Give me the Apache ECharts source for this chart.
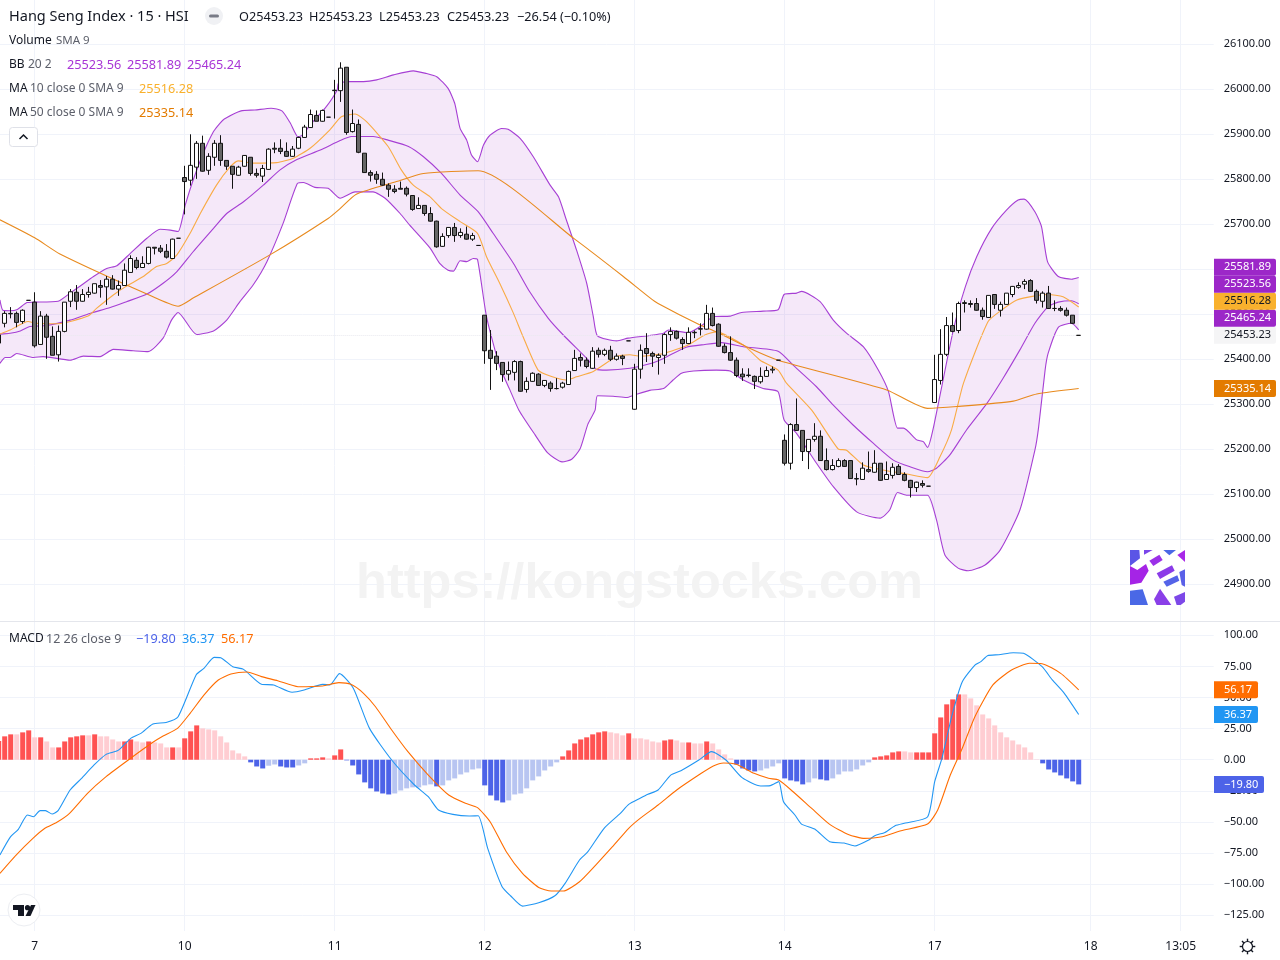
<!DOCTYPE html>
<html><head><meta charset="utf-8">
<style>html,body{margin:0;padding:0;background:#fff}#c{width:1280px;height:960px}</style>
<script src="https://cdn.jsdelivr.net/npm/echarts@6/dist/echarts.min.js"></script>
</head><body><div id="c"></div>
<script>
const firstBar=-6, barCount=203;
const timeTicks={0:'7',25:'10',50:'11',75:'12',100:'13',125:'14',150:'17',176:'18',191:'13:05'};
const priceTicksMin=24900, priceTicksMax=26100, macdMin=-125, macdMax=100;

const opens=[25454,25480,25501,25502,25484,25531,
25527,25433,25496,25451,25410,25462,25529,25549,25529,25544,
25547,25564,25561,25578,25556,25564,25593,25620,25604,25613,
25649,25647,25640,25624,25669,25804,25798,25827,25880,25820,
25849,25880,25842,25829,25809,25829,25849,25813,25807,25822,
25869,25869,25862,25851,25869,25893,25915,25942,25929,25938,
25997,25997,26049,25906,25922,25858,25815,25811,25800,25787,
25778,25780,25780,25764,25735,25742,25724,25707,25651,25675,
25693,25675,25678,25667,25653,25498,25420,25407,25393,25367,
25371,25395,25333,25351,25367,25342,25347,25335,25338,25344,
25375,25404,25398,25380,25420,25411,25420,25400,25407,25441,
25289,25378,25424,25413,25404,25409,25455,25462,25444,25435,
25459,25467,25467,25502,25478,25429,25415,25398,25367,25365,
25362,25350,25362,25376,25398,25220,25169,25255,25242,25195,
25222,25229,25175,25155,25162,25175,25175,25135,25133,25155,
25149,25169,25133,25142,25162,25144,25131,25115,25124,25118,
25304,25353,25411,25475,25464,25524,25524,25524,25509,25493,
25544,25509,25522,25544,25560,25567,25575,25551,25529,25547,
25513,25513,25509,25498,25453.23];
const closes=[25436,25502,25502,25482,25509,25531,
25430,25496,25449,25409,25462,25527,25550,25529,25544,25549,
25568,25560,25578,25556,25564,25598,25624,25604,25613,25649,
25647,25640,25627,25667,25669,25795,25831,25880,25818,25851,
25880,25842,25829,25811,25827,25853,25813,25809,25824,25867,
25867,25862,25851,25867,25893,25916,25944,25929,25953,25938,
25998,26047,25904,25924,25860,25815,25809,25800,25787,25778,
25773,25778,25767,25733,25742,25724,25707,25650,25673,25693,
25675,25682,25667,25675,25653,25419,25402,25391,25366,25375,
25395,25329,25351,25369,25342,25353,25335,25335,25347,25373,
25402,25398,25384,25418,25411,25420,25400,25407,25402,25441,
25378,25420,25413,25407,25409,25455,25462,25447,25435,25460,
25460,25468,25502,25475,25429,25415,25398,25364,25361,25364,
25351,25362,25375,25378,25398,25169,25255,25242,25195,25222,
25229,25175,25155,25164,25175,25162,25135,25134,25158,25151,
25169,25131,25144,25160,25144,25131,25115,25127,25120,25118,
25355,25411,25475,25462,25524,25526,25522,25509,25495,25542,
25522,25522,25547,25562,25564,25573,25551,25531,25547,25513,
25513,25509,25498,25480,25453.23];
const lows=[25436,25471,25491,25471,25479,25531,
25426,25433,25401,25409,25395,25460,25516,25510,25528,25537,
25546,25537,25521,25555,25541,25564,25593,25600,25604,25611,
25633,25636,25624,25624,25669,25722,25786,25801,25817,25810,
25830,25830,25821,25779,25808,25828,25808,25804,25794,25821,
25858,25856,25850,25850,25867,25892,25914,25929,25928,25938,
25935,25972,25899,25904,25858,25815,25795,25790,25786,25761,
25769,25778,25762,25730,25735,25719,25706,25648,25650,25670,
25661,25670,25666,25663,25653,25390,25332,25376,25350,25353,
25353,25328,25326,25350,25341,25338,25328,25333,25335,25344,
25375,25384,25380,25379,25404,25407,25396,25397,25387,25441,
25288,25357,25394,25383,25366,25390,25441,25444,25421,25434,
25447,25453,25466,25473,25428,25413,25397,25360,25352,25360,
25334,25346,25361,25369,25398,25164,25155,25241,25174,25156,
25217,25175,25153,25153,25160,25161,25135,25120,25133,25148,
25148,25130,25133,25135,25144,25129,25093,25105,25115,25118,
25304,25344,25407,25460,25458,25504,25515,25508,25488,25492,
25512,25495,25521,25538,25557,25556,25550,25524,25515,25512,
25507,25506,25495,25479,25453.23];
const highs=[25476,25507,25516,25506,25511,25531,
25549,25507,25501,25473,25475,25527,25556,25565,25556,25561,
25568,25576,25585,25587,25575,25613,25631,25627,25629,25650,
25649,25654,25656,25668,25669,25830,25900,25885,25897,25858,
25887,25898,25842,25829,25830,25854,25849,25824,25832,25869,
25882,25889,25882,25874,25895,25921,25955,25953,25955,25938,
26021,26060,26049,25955,25933,25858,25820,25818,25815,25791,
25787,25795,25784,25764,25760,25742,25738,25708,25680,25693,
25703,25691,25695,25681,25653,25498,25465,25418,25393,25395,
25398,25397,25360,25371,25369,25354,25351,25358,25350,25375,
25421,25413,25404,25427,25426,25424,25430,25413,25410,25441,
25390,25433,25458,25417,25413,25458,25471,25464,25449,25471,
25464,25480,25521,25515,25480,25435,25451,25404,25380,25380,
25364,25382,25384,25384,25398,25233,25258,25313,25242,25222,
25258,25242,25202,25178,25180,25178,25176,25147,25171,25195,
25198,25169,25173,25169,25167,25149,25132,25128,25131,25118,
25410,25467,25494,25504,25528,25531,25531,25536,25515,25542,
25544,25528,25547,25563,25571,25578,25578,25555,25551,25563,
25531,25518,25515,25498,25453.23];

const bbUpper=[[-5.8,25532],[-5.3,25509],[-4.1,25508],[-3,25510],[-1.3,25526],[-.2,25527],[3.9,25529],[5.9,25547],[7.6,25563],[9.8,25584],[12,25602],[13.7,25608],[15.9,25635],[18.7,25669],[20.9,25689],[22.6,25687],[23.9,25684],[25.1,25743],[26.4,25798],[28.1,25858],[29.8,25906],[30.9,25925],[31.6,25934],[34.4,25952],[36.7,25954],[39.4,25958],[41.2,25952],[42.6,25925],[43.9,25894],[44.6,25898],[45.9,25921],[48.4,25958],[50.4,25998],[50.6,26013],[52,26017],[54.8,26017],[57,26021],[59.8,26032],[63.1,26041],[65.3,26035],[67,26028],[68.9,26002],[70,25969],[70.9,25913],[72,25887],[72.8,25854],[73.8,25839],[74.8,25876],[75.9,25898],[77.8,25913],[78.9,25911],[80.9,25891],[83.1,25850],[85.9,25787],[87.3,25761],[88.6,25710],[90.3,25643],[92,25569],[93.1,25495],[93.8,25452],[97,25441],[98.9,25447],[102.5,25453],[104.8,25458],[105.6,25465],[108.9,25459],[111.7,25480],[113.1,25495],[115.9,25496],[117.8,25504],[121.4,25507],[123.9,25510],[124.9,25544],[127,25547],[127.8,25551],[130.9,25528],[133.1,25487],[135.3,25458],[138.1,25428],[140.6,25376],[142.3,25328],[143.8,25247],[144.8,25247],[147,25221],[148.1,25217],[148.8,25204],[149.7,25243],[153.1,25465],[155.1,25561],[157,25628],[159.5,25691],[162,25732],[163.9,25754],[164.9,25756],[166.7,25728],[167.8,25695],[168.8,25617],[170.6,25584],[172.8,25578],[174,25581.89]];
const bbMiddle=[[-5.8,25456],[-4.1,25458],[-2.4,25463],[-.8,25473],[2,25475],[5.9,25487],[9.2,25502],[12.6,25515],[15.3,25528],[18.7,25545],[21.4,25569],[23.7,25595],[26.4,25639],[29.8,25691],[32,25724],[34.8,25750],[38.1,25787],[40.9,25821],[43.7,25844],[47.6,25865],[50.9,25886],[52.8,25895],[56.4,25895],[58.9,25887],[62.3,25873],[64.8,25850],[67.8,25813],[70.9,25765],[73.9,25728],[76.4,25680],[79.8,25613],[82.5,25550],[85.6,25491],[88.1,25454],[92,25402],[93.6,25378],[95.3,25376],[99.2,25380],[102.5,25390],[104.8,25402],[108.6,25427],[111.7,25433],[114.5,25437],[118.1,25428],[123.9,25418],[126.4,25387],[130.3,25339],[133.1,25298],[136.4,25254],[139.8,25213],[143.1,25176],[145.9,25161],[148.8,25150],[150.3,25158],[152.5,25187],[155.3,25243],[158.7,25302],[161.4,25358],[164.2,25421],[166.7,25480],[168.9,25517],[170.6,25527],[172.8,25530],[174,25523.56]];
const bbLower=[[-5.8,25391],[-4.9,25404],[-4.1,25404],[-3,25413],[-.2,25404],[1.4,25406],[5.9,25398],[8.1,25407],[10.9,25406],[13.1,25422],[16.4,25419],[18.9,25417],[21.4,25447],[22.8,25487],[23.9,25504],[27,25455],[29.8,25463],[32,25487],[34.2,25528],[36.4,25565],[38.7,25617],[41.4,25702],[43.8,25791],[44.8,25793],[46.7,25782],[48.9,25780],[50.9,25758],[53.4,25772],[56.4,25772],[58.4,25758],[60.9,25724],[62.5,25698],[65.9,25647],[67.5,25613],[68.9,25598],[69.8,25596],[70.9,25619],[72,25617],[73.1,25624],[73.8,25622],[75.3,25495],[77.5,25384],[79.2,25332],[80.7,25287],[83.4,25232],[85.5,25192],[87.9,25172],[89.5,25178],[90.9,25201],[92.2,25256],[93.4,25287],[93.8,25319],[96.4,25318],[98.6,25315],[100,25321],[102.5,25331],[104.8,25335],[106.4,25354],[107.8,25369],[109.8,25374],[113.6,25376],[115.9,25374],[118.1,25354],[121.4,25335],[123.9,25328],[124.9,25265],[127,25235],[130.3,25169],[133.1,25117],[137,25061],[140.9,25047],[142.5,25065],[143.8,25104],[145.3,25098],[148.8,25098],[150.3,25043],[151.7,24965],[153.9,24936],[155.6,24930],[158.4,24943],[160.9,24976],[164.2,25065],[166.7,25198],[167.3,25247],[168.4,25376],[168.9,25413],[170.6,25471],[172.8,25480],[174,25465.24]];
const ma10=[[-5.8,25456],[-4.1,25465],[-1.1,25484],[.3,25480],[3.9,25479],[8.9,25496],[10.3,25513],[13.1,25543],[15.1,25561],[18.1,25584],[20.3,25606],[22,25613],[23.7,25632],[25.9,25680],[27.6,25724],[30.3,25787],[32.6,25828],[33.9,25841],[36.4,25836],[40.3,25837],[43.1,25847],[45.9,25869],[49.2,25910],[51.1,25939],[53.4,25945],[55.3,25928],[58.9,25873],[61.1,25821],[63.1,25787],[65.9,25761],[67.8,25735],[70.9,25706],[73.8,25680],[75.3,25628],[77.5,25569],[79.8,25502],[81.4,25450],[83.9,25376],[85.9,25363],[88.6,25354],[90.3,25361],[93.1,25373],[97,25406],[99.2,25410],[100.9,25407],[104.8,25413],[108.9,25432],[111.7,25454],[113.6,25461],[118.1,25432],[120.9,25398],[123.9,25376],[125.3,25347],[129.5,25287],[133.9,25201],[135.3,25198],[138.1,25165],[141.4,25154],[145.3,25145],[148.8,25137],[150.9,25184],[152.8,25243],[154.8,25347],[158.9,25484],[161.2,25510],[163.7,25532],[166.7,25541],[168.9,25544],[171.4,25539],[174,25516.28]];
const ma50=[[-5.8,25710],[0,25670],[4.2,25634],[18.7,25545],[23.9,25518],[26.4,25536],[39.2,25632],[48.9,25713],[50.9,25735],[53.6,25767],[60.3,25795],[64.8,25813],[73.9,25819],[90,25667],[98.1,25584],[102.5,25537],[103.9,25524],[110.9,25476],[113.6,25461],[118.6,25428],[123.9,25398],[142,25332],[148.8,25291],[153.7,25295],[163.1,25307],[167,25323],[174,25335.14]];

const macdHist=[15,18.8,20.4,20.4,22,23.6,
18,18,14.7,9.9,9.9,14.7,18,18.8,19.6,19.6,
20.4,18.8,18.8,16.3,14.7,14.7,16.3,14.7,13.9,14.7,
13.9,13.1,9.9,9.9,9.9,17.2,22.8,27.6,25.2,24.4,
23.6,18.8,13.9,7.5,5.1,2.7,-2.1,-5.4,-7,-4.8,
-3.8,-5.4,-6.2,-6.2,-4.6,-2.9,1.1,1.1,1.9,1.1,
3.5,8.3,-.5,-4.6,-11.8,-18.2,-23,-25.5,-27.1,-27.9,
-27.1,-24.7,-23,-22.2,-22.2,-20.6,-19.8,-21.4,-20.6,-16.6,
-15,-11.8,-10.2,-7.8,-7,-20.6,-28.7,-32.7,-34.3,-32.7,
-27.9,-27.1,-23,-16.6,-13.4,-8.6,-5.4,-2.1,2.7,7.5,
13.1,16.3,18,20.4,22,22.8,22,21.2,19.6,21.2,
17.2,17.2,16.3,14.7,13.9,15.5,16.3,15.5,13.9,13.9,
13.1,13.1,14.7,13.1,8.3,4.3,1.1,-3.8,-7,-8.6,
-9.4,-8.6,-7,-5.4,-2.9,-15,-16.6,-17.4,-19.8,-18.2,
-15,-15.8,-16.6,-15,-11.8,-9.4,-9.4,-7.8,-4.6,-2.1,
1.9,2.7,3.5,5.9,6.7,6.7,5.9,5.9,5.9,5.9,
21.2,34,44.5,48.5,52.5,52.5,49.3,43.7,36.4,33.2,
27.6,22,18,15.5,12.3,9.9,5.9,.3,-2.9,-7.8,
-10.2,-12.6,-15,-17.4,-19.8];
const histShade=('DDDLDD'+'LDLLDDDDDLDLLLLDDLLDLLLDL'+'DDD'+'LLLLLLLL'+'DDDLLDDDLL'+'DDDLDD'+'DDDDDDDD'+'LLLLLLL'+'D'+'LLLLLLL'+'DDDD'+'LLLLLLLLL'+'DDDDDDDD'+'LLL'+'D'+'LLLLL'+'DD'+'LL'+'D'+'LL'+'D'+'LLLL'+'DDDD'+'LLLL'+'DDDD'+'LL'+'DD'+'LLLLLLL'+'DDDDD'+'LL'+'DDD'+'DDDDD'+'LLLLLLLLLLLLL'+'DDDDDDD').split('');
const macdLine=[[-5.8,-76.6],[-4.1,-62.4],[-2.7,-55.7],[-1.2,-44.4],[-.2,-45.8],[.9,-40.9],[1.8,-40.9],[2.9,-43.6],[3.9,-40.9],[5.9,-24.3],[7.8,-15],[9.9,-4.2],[11.9,4.3],[13.9,7.5],[16,17.2],[17.7,21.2],[19.7,28.7],[21.9,30],[23.9,34.6],[26.9,68.1],[28.2,73.4],[29.9,82.3],[31,82],[33,74.8],[34.8,72.6],[37.8,60.6],[39.8,60.1],[42.9,54.2],[44.9,56],[48,60.6],[49.2,60.1],[50.8,69.2],[53.1,57.4],[55.8,25.2],[59.5,-.2],[63.3,-20.3],[65.6,-29.7],[67.3,-40.4],[69.7,-43.9],[72.4,-45.2],[73.9,-45],[75.5,-71.2],[77.9,-102],[79.3,-109.3],[81.3,-117.6],[84,-114.9],[86.7,-109.3],[88.4,-99.3],[90.8,-80.6],[92.2,-73.9],[94.9,-55.1],[97.6,-43.1],[99,-35.9],[100.9,-31],[102.2,-27.8],[103.9,-24.3],[106,-12.3],[107.7,-8.8],[110.7,-.2],[112.8,6.5],[115.2,-.2],[117.9,-14.4],[121,-21.1],[122.6,-20.8],[124,-17.6],[124.8,-33.7],[126.7,-44.4],[127.8,-51.7],[130,-55.7],[132.5,-65.9],[134.9,-66.9],[136.7,-69.3],[139,-64.5],[140,-61],[141.7,-58.4],[143.4,-53],[145.1,-50.9],[148.8,-46],[150,-17.6],[151.2,1.1],[152.9,36],[154.6,62.7],[156.7,76.1],[157.7,78.8],[158.8,83.6],[160.7,84.4],[163.1,86],[164.8,85.5],[167.9,74.8],[169.6,64.1],[171.6,53.4],[174,36.37]];
const signalLine=[[-5.8,-91.3],[-3.1,-76.6],[-.3,-63.2],[1.7,-55.1],[3.7,-50.3],[5.8,-43.1],[8.8,-27],[11.9,-13.6],[15.6,-.2],[19.7,14],[21.4,19.1],[23.8,25.2],[25.9,37.3],[28.2,52],[30.6,64.1],[32.7,68.9],[35.4,70.5],[37.8,66.8],[40.5,63.5],[43.9,58.7],[48,59.3],[50.7,62],[52.7,60.6],[54.8,53.4],[56.8,42.6],[59.5,23.9],[62.2,6.5],[65.6,-12.3],[69,-28.3],[71.8,-35],[73.8,-38.5],[75.9,-49.8],[78.6,-73.9],[81.3,-91.3],[84,-102.6],[86.1,-105.5],[88.1,-105.5],[90.8,-98],[93.5,-84.6],[96.3,-69.9],[99,-55.1],[100.9,-47.1],[103.9,-36.4],[107,-24.3],[111.1,-10.9],[113.1,-5],[114.8,-2.6],[116.9,-3.7],[119.9,-10.9],[122.3,-14.9],[124,-16.3],[126.4,-25.7],[129.5,-39.1],[132.5,-51.9],[135.6,-60],[138.3,-63.2],[141,-62.1],[144.4,-57],[148.8,-51.7],[150.5,-40.4],[152.6,-12.3],[154.6,9.2],[156.7,34.6],[159.7,60.1],[162.8,72.1],[165.8,77.5],[167.9,77.2],[171,69.4],[174,56.17]];

const priceTags=[[25581.89,'#9c27c8','#fff'],[25523.56,'#9c27c8','#fff'],[25516.28,'#f9b12d','#131722'],[25465.24,'#9c27c8','#fff'],[25453.23,'#f5f5f6','#131722'],[25335.14,'#e37b00','#fff']];
const macdTags=[[56.17,'#ff6d00','#fff'],[36.37,'#2196f3','#fff'],[-19.80,'#4d63e8','#fff']];

const UI='"Noto Sans",sans-serif';
const GRID='#f0f3fa', TXT='#131722', MUTED='#5d606b';
const LEFT=-4.3, WIDTH=1218;
const cats=Array.from({length:barCount},(_,i)=>timeTicks[i+firstBar]||'');
const hasTick=(i)=>timeTicks[i+firstBar]!==undefined;
const candleData=opens.map((o,i)=>[o,closes[i],lows[i],highs[i]]);
const shades={posD:'#ff5252',posL:'#ffcdd2',negD:'#4d63e8',negL:'#b8c5f1'};
const histData=macdHist.map((v,i)=>({value:v,itemStyle:{color:v>=0?(histShade[i]==='D'?shades.posD:shades.posL):(histShade[i]==='D'?shades.negD:shades.negL)}}));
const hiddenCat={type:'category',data:cats,show:false,boundaryGap:true};
const hiddenVal={type:'value',min:firstBar-.5,max:firstBar+barCount-.5,show:false};
const priceGrid={left:LEFT,width:WIDTH,top:44.3,height:540,outerBoundsMode:'none'};
const macdGrid={left:LEFT,width:WIDTH,top:635.3,height:280,outerBoundsMode:'none'};
const thin=(name,data,color,x,y,extra)=>Object.assign({name,type:'line',data,xAxisIndex:x,yAxisIndex:y,showSymbol:false,symbol:'none',smooth:0.2,lineStyle:{color,width:1.1},silent:true,z:3},extra||{});

const chart=echarts.init(document.getElementById('c'),null,{renderer:'canvas',width:1280,height:960});
chart.setOption({
 animation:false,backgroundColor:'#fff',
 grid:[{left:LEFT,width:WIDTH,top:0,height:931,outerBoundsMode:'none'},priceGrid,macdGrid],
 xAxis:[
  {gridIndex:0,type:'category',data:cats,boundaryGap:true,axisLine:{show:false},axisTick:{show:false},
   axisLabel:{interval:(i)=>hasTick(i),color:TXT,fontFamily:UI,fontSize:12,margin:10,hideOverlap:false,formatter:(v)=>v},
   splitLine:{show:true,alignWithLabel:true,interval:(i)=>hasTick(i),lineStyle:{color:GRID,width:1}}},
  Object.assign({gridIndex:1},hiddenCat),Object.assign({gridIndex:1},hiddenVal),
  Object.assign({gridIndex:2},hiddenCat),Object.assign({gridIndex:2},hiddenVal)
 ],
 yAxis:[
  {gridIndex:0,type:'value',show:false,min:0,max:1,splitLine:{show:false}},
  {gridIndex:1,type:'value',position:'right',min:priceTicksMin,max:priceTicksMax,interval:100,axisLine:{show:false},axisTick:{show:false},
   axisLabel:{formatter:(v)=>v.toFixed(2),color:TXT,fontFamily:UI,fontSize:11,margin:10},splitLine:{lineStyle:{color:GRID,width:1}}},
  {gridIndex:2,type:'value',position:'right',min:macdMin,max:macdMax,interval:25,axisLine:{show:false},axisTick:{show:false},
   axisLabel:{formatter:(v)=>v.toFixed(2).replace('-','\u2212'),color:TXT,fontFamily:UI,fontSize:11,margin:10},splitLine:{lineStyle:{color:GRID,width:1}}}
 ],
 series:[
  {name:'BB fill',type:'custom',xAxisIndex:2,yAxisIndex:1,data:[[0,25500]],silent:true,z:1,
   renderItem:(p,api)=>({type:'polygon',shape:{points:bbUpper.concat(bbLower.slice().reverse()).map(d=>api.coord(d))},style:{fill:'rgba(156,39,200,0.105)'}})},
  thin('BB lower',bbLower,'#a63fd4',2,1),
  thin('BB upper',bbUpper,'#a63fd4',2,1),
  thin('BB middle',bbMiddle,'#a63fd4',2,1),
  thin('MA 10',ma10,'#f9ab45',2,1),
  thin('MA 50',ma50,'#e88a1e',2,1,{markLine:{silent:true,symbol:'none',label:{show:false},lineStyle:{type:'dotted',color:'#e9e9ef',width:1},data:[[{coord:[firstBar,closes[closes.length-1]]},{coord:[174,closes[closes.length-1]]}]]}}),
  {name:'HSI',type:'candlestick',xAxisIndex:1,yAxisIndex:1,data:candleData,barWidth:5,z:5,silent:true,
   itemStyle:{color:'#ffffff',color0:'#666666',borderColor:'#131313',borderColor0:'#131313',borderColorDoji:'#131313',borderWidth:1}},
  {name:'Histogram',type:'bar',xAxisIndex:3,yAxisIndex:2,data:histData,barWidth:5,z:2,silent:true},
  thin('MACD',macdLine,'#2196f3',4,2,{z:4}),
  thin('Signal',signalLine,'#ff6d00',4,2,{z:4})
 ]
});

// ---- page furniture: legends, tags, buttons
const t=(x,y,text,fill,size,extra)=>Object.assign({type:'text',x,y:y+1,z:20,silent:true,style:{text,fill:fill||TXT,font:(size||12)+'px '+UI,verticalAlign:'middle',align:'left'}},extra||{});
const g=[];
g.push({type:'text',x:639.5,y:584,z:0,silent:true,style:{text:'https://kongstocks.com',fill:'#f3f3f3',font:'bold 50.5px "Liberation Sans",sans-serif',align:'center',verticalAlign:'middle'}});
g.push({type:'rect',z:6,silent:true,shape:{x:0,y:621,width:1280,height:1},style:{fill:'#e4e6ec'}});
// header
g.push(t(9,16,'Hang Seng Index \u00b7 15 \u00b7 HSI',TXT,14.5));
g.push({type:'circle',z:20,silent:true,shape:{cx:214,cy:16,r:9},style:{fill:'#f0f1f4'}});
g.push({type:'rect',z:21,silent:true,shape:{x:209,y:14.5,width:10,height:3,r:1.5},style:{fill:'#787b86'}});
[[239,'O25453.23'],[309,'H25453.23'],[379,'L25453.23'],[447,'C25453.23'],[517,'\u221226.54 (\u22120.10%)']].forEach(a=>g.push(t(a[0],16,a[1],TXT,12.7)));
g.push(t(9,40,'Volume',TXT,12)); g.push(t(56,40,'SMA 9',MUTED,11.5));
g.push(t(9,64,'BB',TXT,12)); g.push(t(28,64,'20 2',MUTED,12));
[[67,'25523.56'],[127,'25581.89'],[187,'25465.24']].forEach(a=>g.push(t(a[0],64,a[1],'#a835d6',12.7)));
g.push(t(9,88,'MA',TXT,12)); g.push(t(30,88,'10 close 0 SMA 9',MUTED,12)); g.push(t(139,88,'25516.28','#f9b12d',12.7));
g.push(t(9,112,'MA',TXT,12)); g.push(t(30,112,'50 close 0 SMA 9',MUTED,12)); g.push(t(139,112,'25335.14','#e37b00',12.7));
g.push({type:'rect',z:20,silent:true,shape:{x:9.5,y:127.5,width:28,height:19,r:3},style:{fill:'#fff',stroke:'#dfe1e8',lineWidth:1}});
g.push({type:'polyline',z:21,silent:true,shape:{points:[[19.5,139],[23.5,135],[27.5,139]]},style:{stroke:TXT,lineWidth:1.5,fill:null}});
g.push(t(9,638,'MACD',TXT,12)); g.push(t(46,638,'12 26 close 9',MUTED,12.5));
g.push(t(136,638,'\u221219.80','#4d63e8',12.7)); g.push(t(182,638,'36.37','#2196f3',12.7)); g.push(t(221,638,'56.17','#ff6d00',12.7));
// value tags, pushed up when they would overlap
const tag=(yPix,w,v,bg,fg,sign)=>{
 g.push({type:'rect',z:22,silent:true,shape:{x:1214,y:yPix-8.5,width:w,height:17,r:[0,2,2,0]},style:{fill:bg}});
 g.push(t(1224,yPix-1,sign?v.toFixed(2).replace('-','\u2212'):v.toFixed(2),fg,11,{z:23}));
};
let prev=Infinity;
priceTags.slice().sort((a,b)=>a[0]-b[0]).forEach(a=>{
 let y=chart.convertToPixel({yAxisIndex:1},a[0]);
 y=Math.min(y,prev-17); prev=y; tag(y,62,a[0],a[1],a[2]);
});
macdTags.forEach(a=>tag(chart.convertToPixel({yAxisIndex:2},a[0]),a[0]<0?50:44,a[0],a[1],a[2],true));
// TradingView badge
g.push({type:'circle',z:20,silent:true,shape:{cx:24,cy:910,r:16},style:{fill:'#fff',stroke:'#eceef2',lineWidth:1}});
g.push({type:'polygon',z:21,silent:true,shape:{points:[[13,905],[24,905],[24,916],[18,916],[18,910],[13,910]]},style:{fill:'#131722'}});
g.push({type:'circle',z:21,silent:true,shape:{cx:27.5,cy:907.7,r:2.6},style:{fill:'#131722'}});
g.push({type:'polygon',z:21,silent:true,shape:{points:[[31,905],[35.5,905],[30.5,916],[25.5,916]]},style:{fill:'#131722'}});
// gear
g.push({type:'circle',z:20,silent:true,shape:{cx:1247.5,cy:946.5,r:5},style:{fill:'#fff',stroke:TXT,lineWidth:1.2}});
for(let i=0;i<8;i++){const a=i*Math.PI/4,c=Math.cos(a),s=Math.sin(a);
 g.push({type:'line',z:20,silent:true,shape:{x1:1247.5+5*c,y1:946.5+5*s,x2:1247.5+7.8*c,y2:946.5+7.8*s},style:{stroke:TXT,lineWidth:1.4}});}
// logo
g.push({type:'rect',z:1,silent:true,shape:{x:1130,y:550,width:55,height:55},style:{fill:'#fff'}});
const logoPieces=[
 ['#5b55e6',[[90,30],[118,30],[120,55],[90,78]]],['#7a45ea',[[132,30],[158,30],[132,44]]],
 ['#9b30e8',[[148,62],[178,44],[188,60],[160,78]]],['#4a68e6',[[190,30],[228,30],[208,46]]],
 ['#a828e8',[[232,45],[255,30],[255,66]]],['#a524e6',[[90,78],[112,90],[138,72],[146,92],[124,128],[90,134]]],
 ['#8a3be8',[[170,100],[216,76],[224,92],[180,117]]],['#5463e8',[[190,125],[232,106],[238,122],[200,140]]],
 ['#5a60e8',[[238,96],[255,88],[255,140],[245,135]]],['#4a68e6',[[90,152],[128,148],[144,195],[90,195]]],
 ['#8a3fe8',[[162,178],[180,146],[214,195],[170,195]]],['#7d48e8',[[222,170],[255,156],[255,185],[242,195],[230,195]]]];
logoPieces.forEach(p=>g.push({type:'polygon',z:2,silent:true,shape:{points:p[1].map(q=>[1100+q[0]/3,540+q[1]/3])},style:{fill:p[0]}}));
chart.setOption({graphic:g});
</script></body></html>
